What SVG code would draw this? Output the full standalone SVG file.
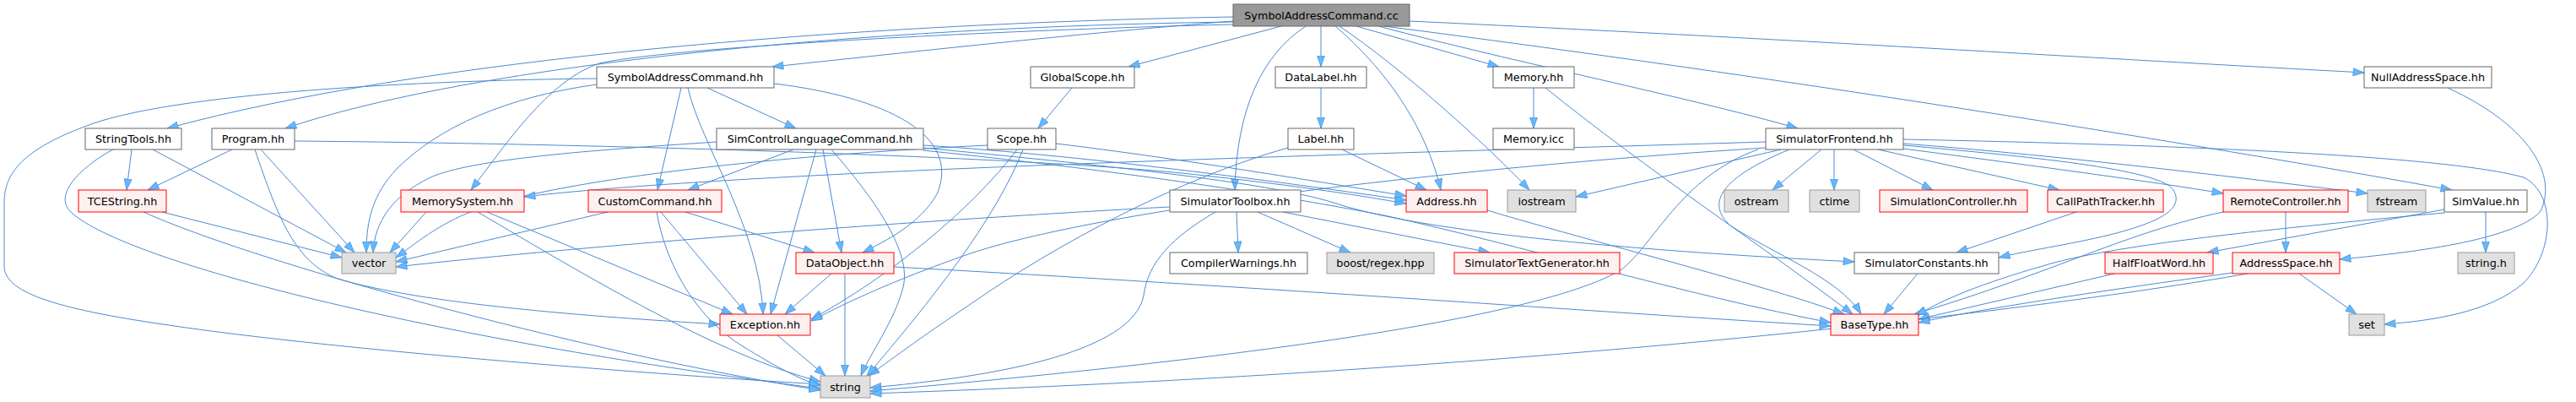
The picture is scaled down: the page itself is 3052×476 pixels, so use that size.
<svg xmlns="http://www.w3.org/2000/svg" width="3052" height="476" viewBox="0 0 3052 476">
<style>
.nd rect{stroke-width:1}
.w rect{fill:#ffffff;stroke:#666666}
.g rect{fill:#e0e0e0;stroke:#999999}
.r rect{fill:#fff0f0;stroke:#ff0000}
.s rect{fill:#999999;stroke:#666666}
.nd text{font-family:"DejaVu Sans","Liberation Sans",sans-serif;font-size:12.8px;text-anchor:middle;fill:#000000}
#edges path{fill:none;stroke:#4a8ad0;stroke-width:1;marker-end:url(#ah)}
</style>
<defs>
<marker id="ah" markerWidth="15" markerHeight="11" refX="13.5" refY="5.5" orient="auto" markerUnits="userSpaceOnUse">
<path d="M0.5,1 L13.5,5.5 L0.5,10 z" fill="#63b8ff" stroke="#4a8ad0" stroke-width="0.7"/>
</marker>
</defs>
<rect width="3052" height="476" fill="#ffffff"/>
<g id="edges">
<path d="M1461,25 C1250,42 1050,65 915,79"/>
<path d="M1461,20 C1000,28 500,70 198,152"/>
<path d="M1461,26 C1000,32 550,80 338,152"/>
<path d="M1461,29 C1200,35 800,55 710,75 C650,95 600,170 558,225"/>
<path d="M1518,31 L1337,79"/>
<path d="M1547,31 C1495,65 1465,130 1463,225"/>
<path d="M1565,31 L1565,79"/>
<path d="M1582,31 C1640,80 1690,150 1707,225"/>
<path d="M1587,31 C1660,80 1760,170 1812,225"/>
<path d="M1607,31 L1776,79"/>
<path d="M1633,31 C1800,75 2000,115 2130,152"/>
<path d="M1670,25 C2100,45 2500,70 2801,86"/>
<path d="M1640,31 C2100,90 2600,170 2905,225"/>
<path d="M838,104 L943,152"/>
<path d="M807,104 L779,225"/>
<path d="M815,104 C830,170 900,270 904,372"/>
<path d="M917,99 C1050,115 1140,160 1110,230 C1090,265 1050,285 1022,299"/>
<path d="M707,100 C600,115 520,150 470,200 C442,230 434,260 434,299"/>
<path d="M707,93 C500,95 200,110 100,150 C20,180 5,210 5,240 L5,315 C5,345 60,365 200,385 C400,415 800,445 972,455"/>
<path d="M156,177 L150,225"/>
<path d="M181,177 L410,299"/>
<path d="M134,177 C100,195 60,230 85,252 C150,310 500,400 972,460"/>
<path d="M275,177 L175,225"/>
<path d="M309,177 L420,299"/>
<path d="M302,177 C330,260 350,310 400,330 C500,360 700,375 853,384"/>
<path d="M349,167 C700,170 1200,185 1400,205 C1560,222 1630,235 1666,241"/>
<path d="M1270,104 L1230,152"/>
<path d="M1565,104 L1565,152"/>
<path d="M1590,177 L1690,225"/>
<path d="M1526,175 C1400,210 1250,290 1150,360 C1090,400 1050,430 1029,445"/>
<path d="M1817,104 L1817,152"/>
<path d="M1831,104 C1950,200 2100,300 2195,372"/>
<path d="M2900,104 C3000,150 3030,210 3010,250 C2980,285 2850,300 2772,307"/>
<path d="M940,177 L815,225"/>
<path d="M967,177 L913,372"/>
<path d="M975,177 L997,299"/>
<path d="M985,177 C1040,240 1080,300 1070,340 C1060,380 1030,420 1020,445"/>
<path d="M849,168 C700,178 560,188 510,210 C465,232 444,262 442,299"/>
<path d="M1094,172 C1300,185 1550,220 1666,237"/>
<path d="M1094,175 C1300,195 1500,215 1580,240 C1700,280 2000,300 2197,310"/>
<path d="M1094,178 C1400,210 1560,240 1640,255 C1800,290 2000,350 2169,382"/>
<path d="M1170,172 C900,185 650,215 560,250 C520,265 490,290 469,305"/>
<path d="M1205,177 C1150,250 1050,330 961,378"/>
<path d="M1212,177 C1180,260 1100,360 1027,445"/>
<path d="M1251,170 C1400,188 1560,215 1666,232"/>
<path d="M505,251 L462,299"/>
<path d="M577,251 L868,372"/>
<path d="M566,251 C700,330 850,420 972,452"/>
<path d="M720,251 L469,310"/>
<path d="M783,251 L885,372"/>
<path d="M778,251 C790,320 830,380 880,410 C920,435 950,450 972,457"/>
<path d="M812,251 L965,299"/>
<path d="M1465,251 L1467,299"/>
<path d="M1490,251 L1600,299"/>
<path d="M1520,251 L1765,299"/>
<path d="M1386,245 C1100,260 700,290 469,316"/>
<path d="M1440,251 C1390,280 1360,310 1355,350 C1345,400 1250,440 1031,459"/>
<path d="M985,324 L930,372"/>
<path d="M1001,324 L1001,445"/>
<path d="M1059,316 C1500,340 1900,370 2169,386"/>
<path d="M921,397 L978,445"/>
<path d="M192,251 L405,305"/>
<path d="M170,251 C300,310 700,420 972,462"/>
<path d="M1762,249 C1900,290 2100,340 2185,372"/>
<path d="M2092,168 C1700,180 900,200 621,233"/>
<path d="M2110,177 L1867,233"/>
<path d="M2158,177 L2100,225"/>
<path d="M2173,177 L2173,225"/>
<path d="M2196,177 L2290,225"/>
<path d="M2225,177 L2440,225"/>
<path d="M2255,176 C2400,195 2550,215 2634,229"/>
<path d="M2255,170 C2450,185 2650,210 2805,229"/>
<path d="M2255,165 C2600,172 2900,185 2990,210 C3030,230 3025,300 2990,335 C2950,370 2880,380 2825,384"/>
<path d="M2255,172 C2400,185 2560,200 2575,225 C2590,250 2550,265 2500,278 C2450,290 2400,297 2368,305"/>
<path d="M2634,251 C2520,275 2440,320 2268,372"/>
<path d="M2120,177 C2040,210 2020,240 2050,267 C2100,300 2180,330 2205,372"/>
<path d="M2083,177 C1990,210 1960,290 1920,320 C1800,390 1300,440 1031,463"/>
<path d="M2092,175 C1700,200 1300,250 1150,300 C1050,335 1000,360 961,380"/>
<path d="M2896,248 L2615,299"/>
<path d="M2945,251 L2945,299"/>
<path d="M2896,252 C2700,270 2500,290 2420,315 C2350,335 2300,355 2270,374"/>
<path d="M2708,251 L2708,299"/>
<path d="M2460,251 L2318,299"/>
<path d="M2272,324 L2232,372"/>
<path d="M2505,324 L2273,378"/>
<path d="M2724,324 L2792,372"/>
<path d="M2645,323 C2500,343 2350,365 2273,382"/>
<path d="M2663,324 C2400,370 1800,440 1031,466"/>
</g>
<g id="n_cc" class="nd s"><rect x="1461" y="5" width="209" height="26"/><text x="1565.5" y="22.5">SymbolAddressCommand.cc</text></g>
<g id="n_sah" class="nd w"><rect x="707" y="79" width="210" height="25"/><text x="812" y="96">SymbolAddressCommand.hh</text></g>
<g id="n_gs" class="nd w"><rect x="1221" y="79" width="123" height="25"/><text x="1282.5" y="96">GlobalScope.hh</text></g>
<g id="n_dl" class="nd w"><rect x="1511" y="79" width="108" height="25"/><text x="1565" y="96">DataLabel.hh</text></g>
<g id="n_mem" class="nd w"><rect x="1769" y="79" width="96" height="25"/><text x="1817" y="96">Memory.hh</text></g>
<g id="n_nas" class="nd w"><rect x="2801" y="79" width="151" height="25"/><text x="2876.5" y="96">NullAddressSpace.hh</text></g>
<g id="n_st" class="nd w"><rect x="101" y="152" width="114" height="25"/><text x="158" y="169">StringTools.hh</text></g>
<g id="n_pr" class="nd w"><rect x="251" y="152" width="98" height="25"/><text x="300" y="169">Program.hh</text></g>
<g id="n_sclc" class="nd w"><rect x="849" y="152" width="245" height="25"/><text x="971.5" y="169">SimControlLanguageCommand.hh</text></g>
<g id="n_sc" class="nd w"><rect x="1170" y="152" width="81" height="25"/><text x="1210.5" y="169">Scope.hh</text></g>
<g id="n_lb" class="nd w"><rect x="1526" y="152" width="78" height="25"/><text x="1565" y="169">Label.hh</text></g>
<g id="n_micc" class="nd w"><rect x="1769" y="152" width="96" height="25"/><text x="1817" y="169">Memory.icc</text></g>
<g id="n_sf" class="nd w"><rect x="2092" y="152" width="163" height="25"/><text x="2173.5" y="169">SimulatorFrontend.hh</text></g>
<g id="n_tce" class="nd r"><rect x="93" y="225" width="104" height="26"/><text x="145" y="242.5">TCEString.hh</text></g>
<g id="n_ms" class="nd r"><rect x="475" y="225" width="146" height="26"/><text x="548" y="242.5">MemorySystem.hh</text></g>
<g id="n_cuc" class="nd r"><rect x="697" y="225" width="158" height="26"/><text x="776" y="242.5">CustomCommand.hh</text></g>
<g id="n_stb" class="nd w"><rect x="1386" y="225" width="155" height="26"/><text x="1463.5" y="242.5">SimulatorToolbox.hh</text></g>
<g id="n_ad" class="nd r"><rect x="1666" y="225" width="96" height="26"/><text x="1714" y="242.5">Address.hh</text></g>
<g id="n_ios" class="nd g"><rect x="1786" y="225" width="81" height="26"/><text x="1826.5" y="242.5">iostream</text></g>
<g id="n_ost" class="nd g"><rect x="2043" y="225" width="76" height="26"/><text x="2081" y="242.5">ostream</text></g>
<g id="n_ct" class="nd g"><rect x="2144" y="225" width="59" height="26"/><text x="2173.5" y="242.5">ctime</text></g>
<g id="n_simc" class="nd r"><rect x="2227" y="225" width="175" height="26"/><text x="2314.5" y="242.5">SimulationController.hh</text></g>
<g id="n_cpt" class="nd r"><rect x="2426" y="225" width="137" height="26"/><text x="2494.5" y="242.5">CallPathTracker.hh</text></g>
<g id="n_rc" class="nd r"><rect x="2634" y="225" width="148" height="26"/><text x="2708" y="242.5">RemoteController.hh</text></g>
<g id="n_fs" class="nd g"><rect x="2805" y="225" width="69" height="26"/><text x="2839.5" y="242.5">fstream</text></g>
<g id="n_sv" class="nd w"><rect x="2896" y="225" width="98" height="26"/><text x="2945" y="242.5">SimValue.hh</text></g>
<g id="n_vec" class="nd g"><rect x="405" y="299" width="64" height="25"/><text x="437" y="316">vector</text></g>
<g id="n_do" class="nd r"><rect x="943" y="299" width="116" height="25"/><text x="1001" y="316">DataObject.hh</text></g>
<g id="n_cw" class="nd w"><rect x="1386" y="299" width="163" height="25"/><text x="1467.5" y="316">CompilerWarnings.hh</text></g>
<g id="n_br" class="nd g"><rect x="1572" y="299" width="127" height="25"/><text x="1635.5" y="316">boost/regex.hpp</text></g>
<g id="n_stg" class="nd r"><rect x="1723" y="299" width="196" height="25"/><text x="1821" y="316">SimulatorTextGenerator.hh</text></g>
<g id="n_scon" class="nd w"><rect x="2197" y="299" width="171" height="25"/><text x="2282.5" y="316">SimulatorConstants.hh</text></g>
<g id="n_hfw" class="nd r"><rect x="2494" y="299" width="128" height="25"/><text x="2558" y="316">HalfFloatWord.hh</text></g>
<g id="n_as" class="nd r"><rect x="2645" y="299" width="127" height="25"/><text x="2708.5" y="316">AddressSpace.hh</text></g>
<g id="n_sh" class="nd g"><rect x="2912" y="299" width="67" height="25"/><text x="2945.5" y="316">string.h</text></g>
<g id="n_ex" class="nd r"><rect x="853" y="372" width="107" height="25"/><text x="906.5" y="389">Exception.hh</text></g>
<g id="n_bt" class="nd r"><rect x="2169" y="372" width="104" height="25"/><text x="2221" y="389">BaseType.hh</text></g>
<g id="n_set" class="nd g"><rect x="2783" y="372" width="42" height="25"/><text x="2804" y="389">set</text></g>
<g id="n_str" class="nd g"><rect x="972" y="445" width="59" height="26"/><text x="1001.5" y="462.5">string</text></g>
</svg>
